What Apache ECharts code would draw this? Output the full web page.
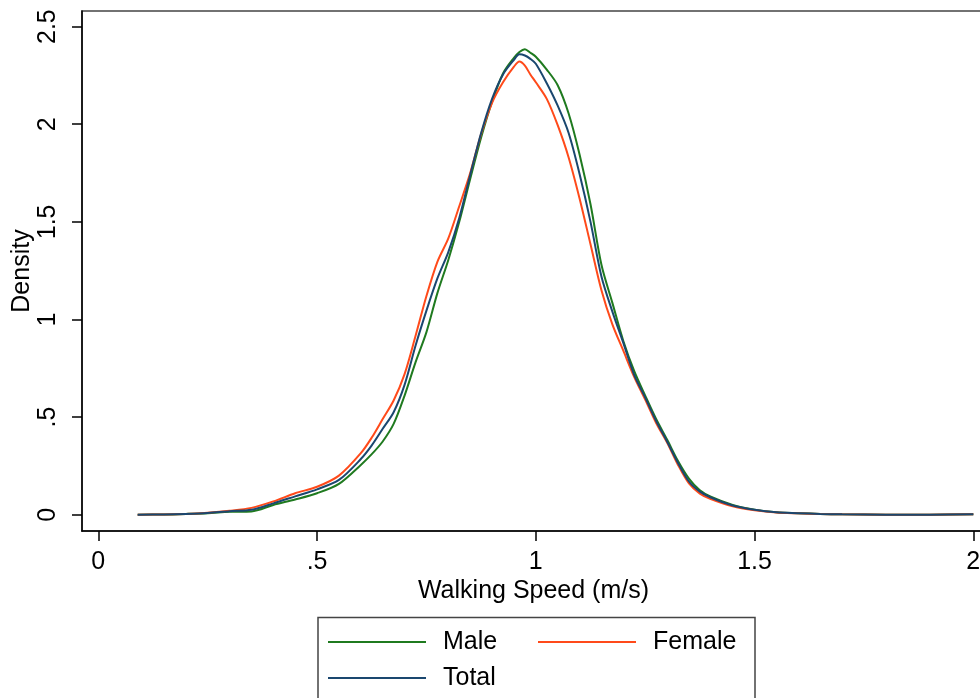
<!DOCTYPE html>
<html>
<head>
<meta charset="utf-8">
<script src="https://cdn.jsdelivr.net/npm/echarts@6/dist/echarts.min.js"></script>
<style>html,body{margin:0;padding:0;background:#fff}#c{width:980px;height:698px}</style>
</head>
<body>
<div id="c"></div>
<script>
const speeds = [0.09,0.15,0.2,0.25,0.3,0.35,0.4,0.45,0.5,0.55,0.6,0.625,0.65,0.675,0.7,0.725,0.75,0.775,0.8,0.825,0.85,0.875,0.9,0.925,0.95,0.9625,0.975,0.9875,1.0,1.025,1.05,1.075,1.1,1.125,1.15,1.175,1.2,1.225,1.25,1.275,1.3,1.325,1.35,1.375,1.4,1.45,1.5,1.55,1.6,1.65,1.7,1.8,1.9,2.0];
const maleDensity = [0.000,0.001,0.004,0.008,0.015,0.017,0.050,0.078,0.110,0.158,0.255,0.310,0.375,0.465,0.610,0.780,0.935,1.135,1.305,1.500,1.720,1.932,2.115,2.260,2.340,2.370,2.384,2.366,2.346,2.280,2.200,2.055,1.845,1.590,1.280,1.085,0.890,0.735,0.610,0.490,0.385,0.275,0.185,0.125,0.092,0.050,0.026,0.013,0.008,0.004,0.002,0.000,0.000,0.002];
const femaleDensity = [0.000,0.001,0.004,0.010,0.020,0.035,0.068,0.110,0.143,0.200,0.315,0.395,0.490,0.585,0.720,0.915,1.120,1.295,1.415,1.580,1.750,1.950,2.110,2.215,2.295,2.321,2.300,2.255,2.215,2.130,1.995,1.830,1.620,1.385,1.150,0.975,0.840,0.705,0.590,0.470,0.370,0.255,0.160,0.108,0.080,0.043,0.023,0.011,0.007,0.004,0.002,0.000,0.000,0.002];
const totalDensity = [0.000,0.001,0.004,0.009,0.018,0.025,0.058,0.094,0.130,0.178,0.285,0.355,0.440,0.525,0.665,0.865,1.045,1.210,1.345,1.520,1.740,1.955,2.130,2.255,2.330,2.358,2.352,2.335,2.310,2.210,2.095,1.955,1.745,1.500,1.220,1.040,0.880,0.715,0.600,0.480,0.375,0.265,0.170,0.118,0.088,0.047,0.025,0.012,0.008,0.004,0.002,0.000,0.000,0.002];
const xTicks = [0,0.5,1,1.5,2];
const yTicks = [0,0.5,1,1.5,2,2.5];

const FONT = 'Liberation Sans, Arial, Helvetica, sans-serif';
const fmt = v => { const s = String(+v.toFixed(2)); return s.startsWith('0.') ? s.slice(1) : s; };
const pairs = arr => speeds.map((x,i)=>[x, arr[i]]);

const chart = echarts.init(document.getElementById('c'), null, {renderer:'canvas'});
const legendBase = {
  orient:'horizontal', icon:'rect', itemWidth:98, itemHeight:2, itemGap:0, padding:0,
  selectedMode:false,
  textStyle:{fontFamily:FONT, fontSize:25, color:'#000', lineHeight:30, padding:[0,0,0,12]}
};
chart.setOption({
  backgroundColor:'#fff',
  animation:false,
  grid:{left:82, top:11, right:-5, bottom:167, show:true, borderColor:'#444', borderWidth:1.5, containLabel:false, outerBoundsMode:'none'},
  xAxis:{
    type:'value', min:-0.0373, max:2.0267,
    name:'Walking Speed (m/s)', nameLocation:'middle', nameGap:48, nameMoveOverlap:false,
    nameTextStyle:{fontFamily:FONT, fontSize:25, color:'#000'},
    axisLine:{show:true, onZero:false, lineStyle:{color:'#000', width:1.5}},
    axisTick:{show:true, length:10, customValues:xTicks, lineStyle:{color:'#000', width:1.5}},
    axisLabel:{customValues:xTicks, formatter:fmt, fontFamily:FONT, fontSize:25, color:'#000', margin:19},
    splitLine:{show:false}
  },
  yAxis:{
    type:'value', min:-0.0835, max:2.58,
    name:'Density', nameLocation:'middle', nameGap:47, nameMoveOverlap:false,
    nameTextStyle:{fontFamily:FONT, fontSize:25, color:'#000'},
    axisLine:{show:true, onZero:false, lineStyle:{color:'#000', width:1.5}},
    axisTick:{show:true, length:10, customValues:yTicks, lineStyle:{color:'#000', width:1.5}},
    axisLabel:{customValues:yTicks, formatter:fmt, rotate:90, fontFamily:FONT, fontSize:25, color:'#000', margin:21},
    splitLine:{show:false}
  },
  legend:[
    Object.assign({}, legendBase, {data:['Male'], left:328, top:627}),
    Object.assign({}, legendBase, {data:['Female'], left:538, top:627}),
    Object.assign({}, legendBase, {data:['Total'], left:328, top:663})
  ],
  graphic:[{type:'rect', shape:{x:318, y:617.5, width:437, height:120}, style:{fill:'none', stroke:'#444', lineWidth:1.5}, silent:true}],
  series:[
    {name:'Male', type:'line', data:pairs(maleDensity), symbol:'none', smooth:0.3, color:'#1f7a1f', lineStyle:{width:2, color:'#1f7a1f'}},
    {name:'Female', type:'line', data:pairs(femaleDensity), symbol:'none', smooth:0.3, color:'#ff4a1a', lineStyle:{width:2, color:'#ff4a1a'}},
    {name:'Total', type:'line', data:pairs(totalDensity), symbol:'none', smooth:0.3, color:'#1a476f', lineStyle:{width:2, color:'#1a476f'}}
  ]
});
</script>
</body>
</html>
